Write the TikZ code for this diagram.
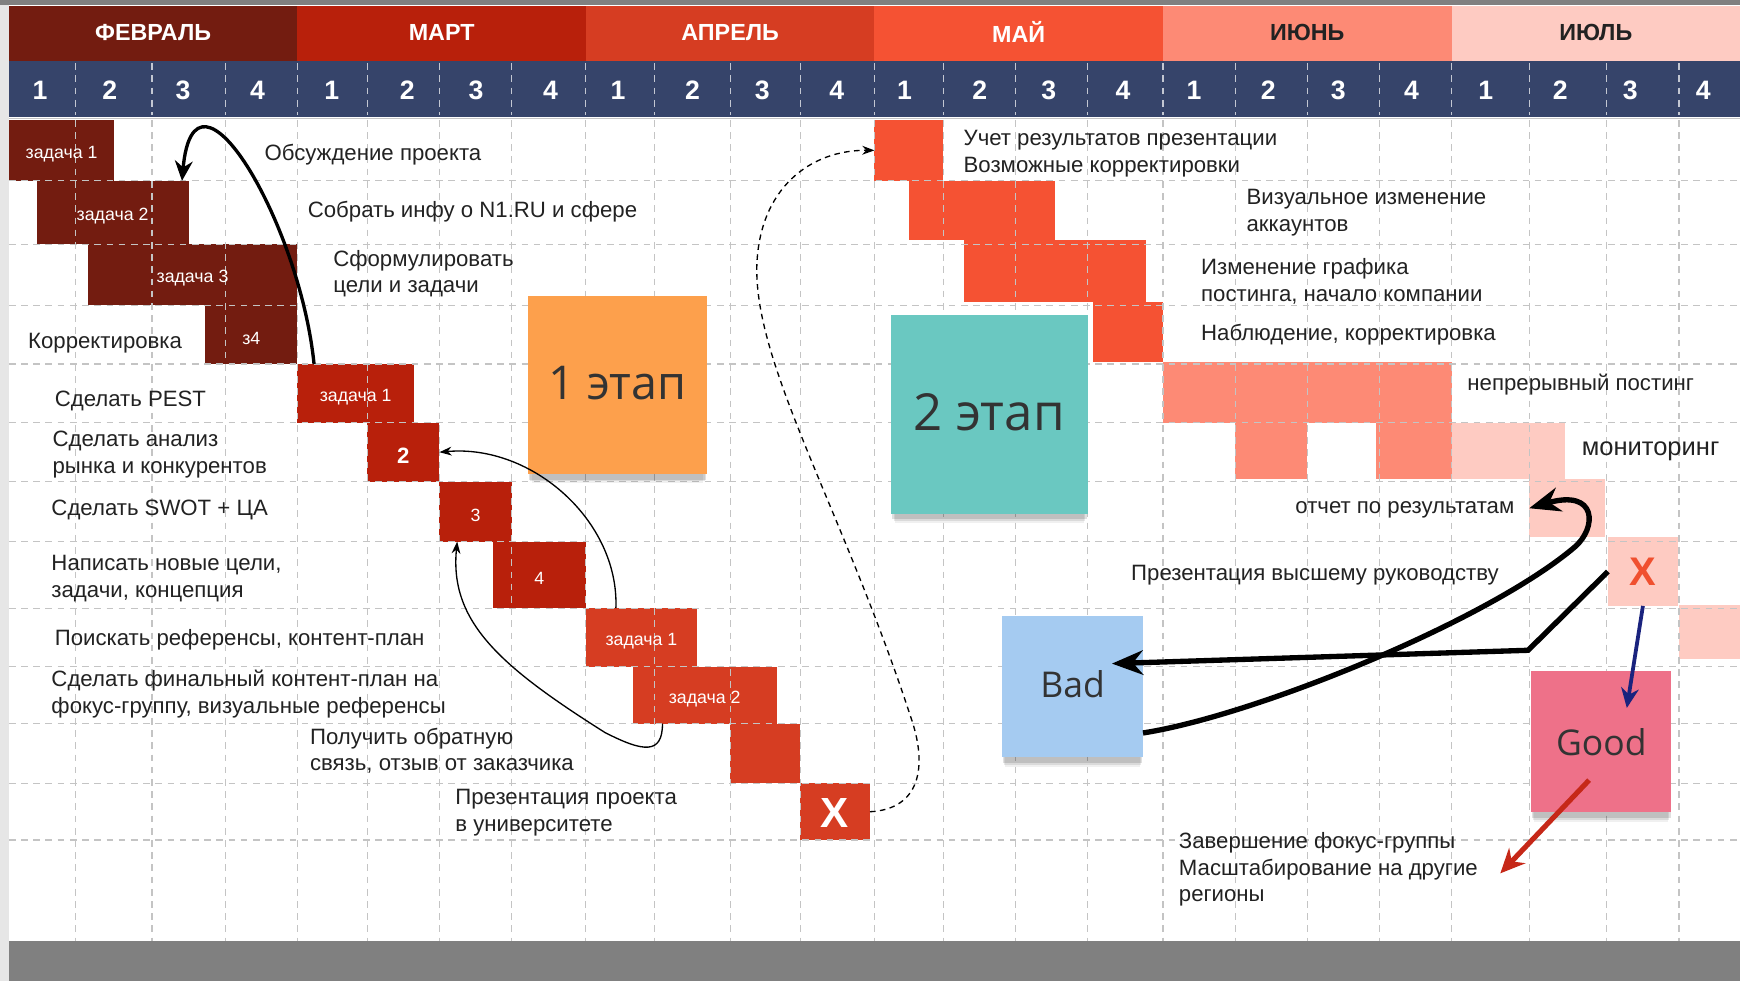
\documentclass[tikz,border=0pt]{standalone}
\usepackage{fontspec}
\setmainfont{Liberation Sans}
\newfontfamily\notefont{Open Sans}
\usetikzlibrary{fit,shadows,arrows.meta}
\definecolor{febc}{HTML}{731C10}
\definecolor{marc}{HTML}{B8200B}
\definecolor{aprc}{HTML}{D63D22}
\definecolor{mayc}{HTML}{F55233}
\definecolor{junc}{HTML}{FD8A75}
\definecolor{julc}{HTML}{FECBC2}
\definecolor{weekc}{HTML}{36446A}
\definecolor{gridc}{HTML}{C4C4C4}
\definecolor{sideg}{HTML}{E6E6E6}
\definecolor{bandg}{HTML}{808080}
\definecolor{txt}{HTML}{222222}
\definecolor{notetxt}{HTML}{333333}
\definecolor{orangenote}{HTML}{FDA04C}
\definecolor{tealnote}{HTML}{6AC8C1}
\definecolor{bluenote}{HTML}{A5CBF1}
\definecolor{pinknote}{HTML}{EE7189}
\definecolor{navyc}{HTML}{1A237E}
\definecolor{redc}{HTML}{C62818}
\definecolor{xred}{HTML}{F0502F}
\begin{document}
\begin{tikzpicture}[x=0.5pt,y=-0.5pt,
  cellbox/.style={inner sep=0pt,outer sep=0pt,draw=none},
  bartxt/.style={inner sep=0pt,text=white,yshift=-1.6pt,font=\fontsize{8}{9}\selectfont},
  month/.style={inner sep=0pt,font=\bfseries\fontsize{10.5}{12}\selectfont},
  wk/.style={inner sep=0pt,text=white,font=\bfseries\fontsize{12}{14}\selectfont},
  lbl/.style={anchor=west,inner sep=0pt,yshift=-0.8pt,align=left,text=txt,font=\fontsize{10}{12}\selectfont},
  sticky/.style={cellbox,
    drop shadow={shadow xshift=0pt,shadow yshift=-6pt,shadow scale=0.96,opacity=0.06,fill=black},
    drop shadow={shadow xshift=0pt,shadow yshift=-4.5pt,shadow scale=0.975,opacity=0.09,fill=black},
    drop shadow={shadow xshift=0pt,shadow yshift=-3pt,shadow scale=0.99,opacity=0.12,fill=black}},
  notetext/.style={inner sep=0pt,text=notetxt},
  gridline/.style={draw=gridc,line width=0.5pt,dash pattern=on 3pt off 2.5pt},
  weekline/.style={draw=white!70!weekc,line width=0.5pt,dash pattern=on 3pt off 2.5pt},
  arrone/.style={line width=1.5pt,-{Stealth[length=9pt,width=8pt]}},
  bigarrow/.style={line width=2.4pt,-{Stealth[length=14pt,width=11pt]}},
  thinarrow/.style={line width=0.6pt,-{Stealth[length=5.5pt,width=4pt]}},
  dasharrow/.style={thinarrow,dash pattern=on 2.5pt off 2pt},
  navyarrow/.style={line width=1.7pt,draw=navyc,-{Stealth[length=9pt,width=8pt]}},
  redarrow/.style={line width=2.3pt,draw=redc,-{Stealth[length=11pt,width=10pt]}}
]
\useasboundingbox (0,0) rectangle (1568,884);
\fill[white] (0,0) rectangle (1568,884);
\fill[sideg] (0,0) rectangle (8,884);
\fill[bandg] (0,0) rectangle (1568,4.5);
\fill[bandg] (8,848) rectangle (1568,884);

% months
\node[cellbox,fill=febc,fit={(8,5)(268,55)}] (mfeb) {};
\node[cellbox,fill=marc,fit={(268,5)(528,55)}] (mmar) {};
\node[cellbox,fill=aprc,fit={(528,5)(788,55)}] (mapr) {};
\node[cellbox,fill=mayc,fit={(788,5)(1048,55)}] (mmay) {};
\node[cellbox,fill=junc,fit={(1048,5)(1308,55)}] (mjun) {};
\node[cellbox,fill=julc,fit={(1308,5)(1568,55)}] (mjul) {};
\node[month,text=white] (tfeb) at ([yshift=0.5pt]mfeb.center) {ФЕВРАЛЬ};
\node[month,text=white] (tmar) at ([yshift=0.5pt]mmar.center) {МАРТ};
\node[month,text=white] (tapr) at ([yshift=0.5pt]mapr.center) {АПРЕЛЬ};
\node[month,text=white] (tmay) at ([yshift=0.5pt]mmay.center) {МАЙ};
\node[month,text=txt] (tjun) at ([yshift=0.5pt]mjun.center) {ИЮНЬ};
\node[month,text=txt] (tjul) at ([yshift=0.5pt]mjul.center) {ИЮЛЬ};

% weeks
\node[cellbox,fill=weekc,fit={(8,55)(1568,105)}] (weekrow) {};
\foreach \x in {68,137,203,268,331,396,461,528,590,658,721,788,850,915,980,1048,1113,1178,1243,1308,1378,1448,1513}
  \draw[weekline] (\x,57) -- (\x,104);
\foreach \x/\n [count=\i] in {36/1,99/2,165/3,232/4,299/1,367/2,429/3,496/4,557/1,624/2,687/3,754/4,815/1,883/2,945/3,1012/4,1076/1,1143/2,1206/3,1272/4,1339/1,1406/2,1469/3,1535/4}
  \node[wk] (w\i) at (\x,81) {\n};
\draw[gridc,line width=0.6pt] (8,106.5) -- (1568,106.5);

% bars February
\node[cellbox,fill=febc,fit={(8,108)(103,163)}] (f1) {};
\node[cellbox,fill=febc,fit={(33,163)(170,220)}] (f2) {};
\node[cellbox,fill=febc,fit={(79,220)(268,275)}] (f3) {};
\node[cellbox,fill=febc,fit={(185,275)(268,328)}] (f4) {};
% March
\node[cellbox,fill=marc,fit={(268,328)(373,381)}] (m1) {};
\node[cellbox,fill=marc,fit={(331,381)(396,434)}] (m2) {};
\node[cellbox,fill=marc,fit={(396,434)(461,488)}] (m3) {};
\node[cellbox,fill=marc,fit={(444,488)(528,548)}] (m4) {};
% April
\node[cellbox,fill=aprc,fit={(528,548)(628,601)}] (a1) {};
\node[cellbox,fill=aprc,fit={(570,601)(700,652)}] (a2) {};
\node[cellbox,fill=aprc,fit={(658,652)(721,706)}] (a3) {};
\node[cellbox,fill=aprc,fit={(721,706)(784,757)}] (ax) {};
% May
\node[cellbox,fill=mayc,fit={(788,108)(850,163)}] (y1) {};
\node[cellbox,fill=mayc,fit={(819,163)(951,216)}] (y2) {};
\node[cellbox,fill=mayc,fit={(869,216)(1033,272)}] (y3) {};
\node[cellbox,fill=mayc,fit={(985,272)(1048,326)}] (y4) {};
% June
\node[cellbox,fill=junc,fit={(1048,326)(1308,381)}] (j1) {};
\node[cellbox,fill=junc,fit={(1113,381)(1178,432)}] (j2) {};
\node[cellbox,fill=junc,fit={(1240,381)(1308,432)}] (j3) {};
% July
\node[cellbox,fill=julc,fit={(1308,381)(1410,432)}] (u1) {};
\node[cellbox,fill=julc,fit={(1378,432)(1446,484)}] (u2) {};
\node[cellbox,fill=julc,fit={(1449,484)(1512,546)}] (ux) {};
\node[cellbox,fill=julc,fit={(1513,545)(1568,594)}] (u3) {};

% grid
\foreach \x in {68,137,203,268,331,396,461,528,590,658,721,788,850,915,980,1048,1113,1178,1243,1308,1378,1448,1513}
  \draw[gridline] (\x,108) -- (\x,848);
\foreach \y in {163,220,275,328,381,434,488,548,601,652,706,757}
  \draw[gridline] (8,\y) -- (1568,\y);

% bar texts
\node[bartxt] (f1t) at (f1.center) {задача 1};
\node[bartxt] (f2t) at (f2.center) {задача 2};
\node[bartxt] (f3t) at (f3.center) {задача 3};
\node[bartxt] (f4t) at (f4.center) {з4};
\node[bartxt] (m1t) at (m1.center) {задача 1};
\node[bartxt,font=\bfseries\fontsize{10}{11}\selectfont] (m2t) at (m2.center) {2};
\node[bartxt] (m3t) at (m3.center) {3};
\node[bartxt] (m4t) at (m4.center) {4};
\node[bartxt] (a1t) at (a1.center) {задача 1};
\node[bartxt] (a2t) at (a2.center) {задача 2};
\node[bartxt,yshift=1.2pt,font=\bfseries\fontsize{19}{20}\selectfont] (axt) at (ax.center) {X};
\node[bartxt,yshift=1.6pt,text=xred,font=\bfseries\fontsize{18}{20}\selectfont] (uxt) at (ux.center) {X};

% sticky notes
\node[sticky,fill=orangenote,fit={(476,267)(637,427)}] (n1) {};
\node[sticky,fill=tealnote,fit={(803,284)(980,463)}] (n2) {};
\node[sticky,fill=bluenote,fit={(903,555)(1030,682)}] (nbad) {};
\node[sticky,fill=pinknote,fit={(1380,605)(1506,732)}] (ngood) {};
\node[notetext,font=\notefont\fontsize{21}{24}\selectfont] (n1t) at ([yshift=1pt]n1.center) {1 этап};
\node[notetext,font=\notefont\fontsize{23}{26}\selectfont] (n2t) at ([yshift=1pt]n2.center) {2 этап};
\node[notetext,font=\notefont\fontsize{16}{19}\selectfont] (nbadt) at ([yshift=1pt]nbad.center) {Bad};
\node[notetext,font=\notefont\fontsize{16}{19}\selectfont] (ngoodt) at (ngood.center) {Good};

% labels
\node[lbl] (l1) at (238,138) {Обсуждение проекта};
\node[lbl] (l2) at (277,189) {Собрать инфу о N1.RU и сфере};
\node[lbl] (l3) at (300,245) {Сформулировать\\цели и задачи};
\node[lbl] (l4) at (25,308) {Корректировка};
\node[lbl] (l5) at (49,360) {Сделать PEST};
\node[lbl] (l6) at (47,408) {Сделать анализ\\рынка и конкурентов};
\node[lbl] (l7) at (46,458) {Сделать SWOT + ЦА};
\node[lbl] (l8) at (46,520) {Написать новые цели,\\задачи, концепция};
\node[lbl] (l9) at (49,575) {Поискать референсы, контент-план};
\node[lbl] (l10) at (46,624) {Сделать финальный контент-план на\\фокус-группу, визуальные референсы};
\node[lbl] (l11) at (279,675) {Получить обратную\\связь, отзыв от заказчика};
\node[lbl] (l12) at (410,731) {Презентация проекта\\в университете};
\node[lbl] (l13) at (868,137) {Учет результатов презентации\\Возможные корректировки};
\node[lbl] (l14) at (1123,190) {Визуальное изменение\\аккаунтов};
\node[lbl] (l15) at (1082,252) {Изменение графика\\постинга, начало компании};
\node[lbl] (l16) at (1082,300) {Наблюдение, корректировка};
\node[lbl] (l17) at (1322,345) {непрерывный постинг};
\node[lbl,font=\fontsize{11.5}{13}\selectfont] (l18) at (1425,405) {мониторинг};
\node[lbl,anchor=east] (l19) at (1365,458) {отчет по результатам};
\node[lbl] (l20) at (1019,517) {Презентация высшему руководству};
\node[lbl] (l21) at (1062,782) {Завершение фокус-группы\\Масштабирование на другие\\регионы};

% connectors
\coordinate (cornerA) at (1377,586);
\coordinate (fintip) at (1352,787);
\draw[arrone] ([xshift=7.5pt]m1.north west) .. controls (270,200) and (175,40) .. ([xshift=-3pt]f2.north east);
\draw[thinarrow] ([xshift=13.5pt]a1.north west) .. controls (558,470) and (480,400) .. (m2.east);
\draw[thinarrow] ([xshift=13.5pt]a2.south west) .. controls (597,680) and (580,678) .. (545,660) .. controls (450,600) and (405,560) .. ([xshift=8pt]m3.south west);
\draw[dasharrow] (ax.east) .. controls (830,729) and (835,690) .. (822,650) .. controls (760,460) and (680,330) .. (682,240) .. controls (684,170) and (730,135) .. (y1.west);
\draw[bigarrow] (ux.west) -- (cornerA) -- ([xshift=-14pt,yshift=10.25pt]nbad.east);
\draw[bigarrow] ([yshift=-21pt]nbad.east) .. controls (1130,645) and (1340,560) .. (1419,493) .. controls (1439,476) and (1440,440) .. (u2.west);
\draw[navyarrow] (ux.south) -- ([xshift=11.5pt,yshift=-16.5pt]ngood.north);
\draw[redarrow] ([xshift=-5.5pt,yshift=-17.25pt]ngood.center) -- (fintip);
\end{tikzpicture}
\end{document}
